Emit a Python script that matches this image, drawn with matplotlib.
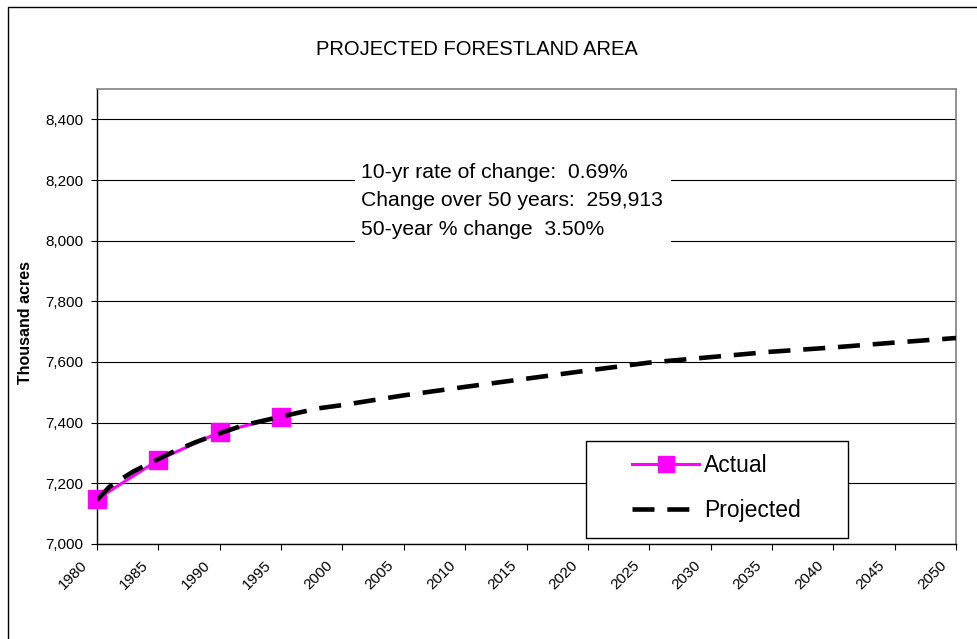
import matplotlib
matplotlib.use("Agg")
import matplotlib.pyplot as plt
import matplotlib.transforms as mtransforms
from matplotlib.patches import Rectangle
from matplotlib.ticker import FuncFormatter

plt.rcParams['font.family'] = ['Liberation Sans', 'DejaVu Sans']

# values (thousand acres)
actual_years = [1980, 1985, 1990, 1995]
actual_vals = [7148, 7277, 7369, 7419]

proj_years = [1980, 1981, 1982, 1983, 1984, 1985, 1986, 1987, 1988, 1989, 1990,
              1992, 1995, 1998, 2000, 2005, 2010, 2015, 2020, 2025, 2030, 2035,
              2040, 2045, 2050]
proj_vals = [7145, 7188, 7215, 7240, 7260, 7280, 7300, 7318, 7335, 7350, 7365,
             7392, 7420, 7447, 7458, 7490, 7518, 7545, 7572, 7598, 7616, 7634,
             7648, 7664, 7679]

x_ticks = list(range(1980, 2051, 5))
y_ticks = list(range(7000, 8401, 200))

stats_lines = ["10-yr rate of change:  0.69%",
               "Change over 50 years:  259,913",
               "50-year % change  3.50%"]

fig = plt.figure(figsize=(9.78, 6.39), dpi=100)
ax = fig.add_axes([0.0992, 0.1487, 0.8783, 0.7120])

ax.plot(actual_years, actual_vals, color='#FF00FF', lw=2.2, marker='s', ms=13.5,
        mec='#FF00FF', label='Actual', zorder=3, clip_on=False)
ax.plot(proj_years, proj_vals, color='black', lw=3.3, dashes=(4.8, 2.8),
        dash_capstyle='butt', label='Projected', zorder=4)

ax.set_xlim(1980, 2050)
ax.set_ylim(7000, 8500)
ax.set_xticks(x_ticks)
ax.set_yticks(y_ticks)
ax.yaxis.set_major_formatter(FuncFormatter(lambda v, p: f'{v:,.0f}'))
ax.grid(axis='y', color='black', lw=0.8)
ax.set_axisbelow(True)

for side in ['top', 'right']:
    ax.spines[side].set_color('#808080')
    ax.spines[side].set_linewidth(1.2)
for side in ['left', 'bottom']:
    ax.spines[side].set_color('black')
    ax.spines[side].set_linewidth(1.0)

ax.tick_params(direction='out', length=4, width=0.8, labelsize=11)
ax.tick_params(axis='y', pad=6)
ax.tick_params(axis='x', pad=3)
# rotated year labels sit a bit down-left of their ticks, like the original
shift = mtransforms.ScaledTranslation(-0.12, -0.095, fig.dpi_scale_trans)
for lab in ax.get_xticklabels():
    lab.set_rotation(45)
    lab.set_ha('right')
    lab.set_va('center')
    lab.set_rotation_mode('anchor')
    lab.set_transform(lab.get_transform() + shift)

# stats box
ax.add_patch(Rectangle((0.300, 0.655), 0.368, 0.211, transform=ax.transAxes,
                       facecolor='white', edgecolor='none', zorder=2))
for txt, yy in zip(stats_lines, [0.8154, 0.7560, 0.6923]):
    ax.text(0.307, yy, txt, transform=ax.transAxes, fontsize=15.2, va='center',
            ha='left', zorder=3)

# legend with a separate frame
ax.add_patch(Rectangle((0.569, 0.0132), 0.305, 0.2128, transform=ax.transAxes,
                       facecolor='white', edgecolor='black', lw=1.0, zorder=5))
leg = ax.legend(loc='center left', bbox_to_anchor=(0.6228, 0.123), frameon=False,
                borderpad=0, borderaxespad=0, handlelength=2.93, handletextpad=0.22,
                labelspacing=1.0, fontsize=16.5, markerscale=0.85)
leg.set_zorder(6)

fig.text(0.4877, 0.9218, 'PROJECTED FORESTLAND AREA', ha='center', va='center',
         fontsize=14.5)
fig.text(0.0256, 0.496, 'Thousand acres', rotation=90, fontweight='bold',
         fontsize=11.5, ha='center', va='center')

# outer chart border (only left and top visible in the crop)
fig.patches.append(Rectangle((8 / 978, -0.05), 1.1, 1.05 - 7 / 639,
                             transform=fig.transFigure, fill=False,
                             edgecolor='black', lw=1.0))

fig.savefig('out.png', dpi=100)
